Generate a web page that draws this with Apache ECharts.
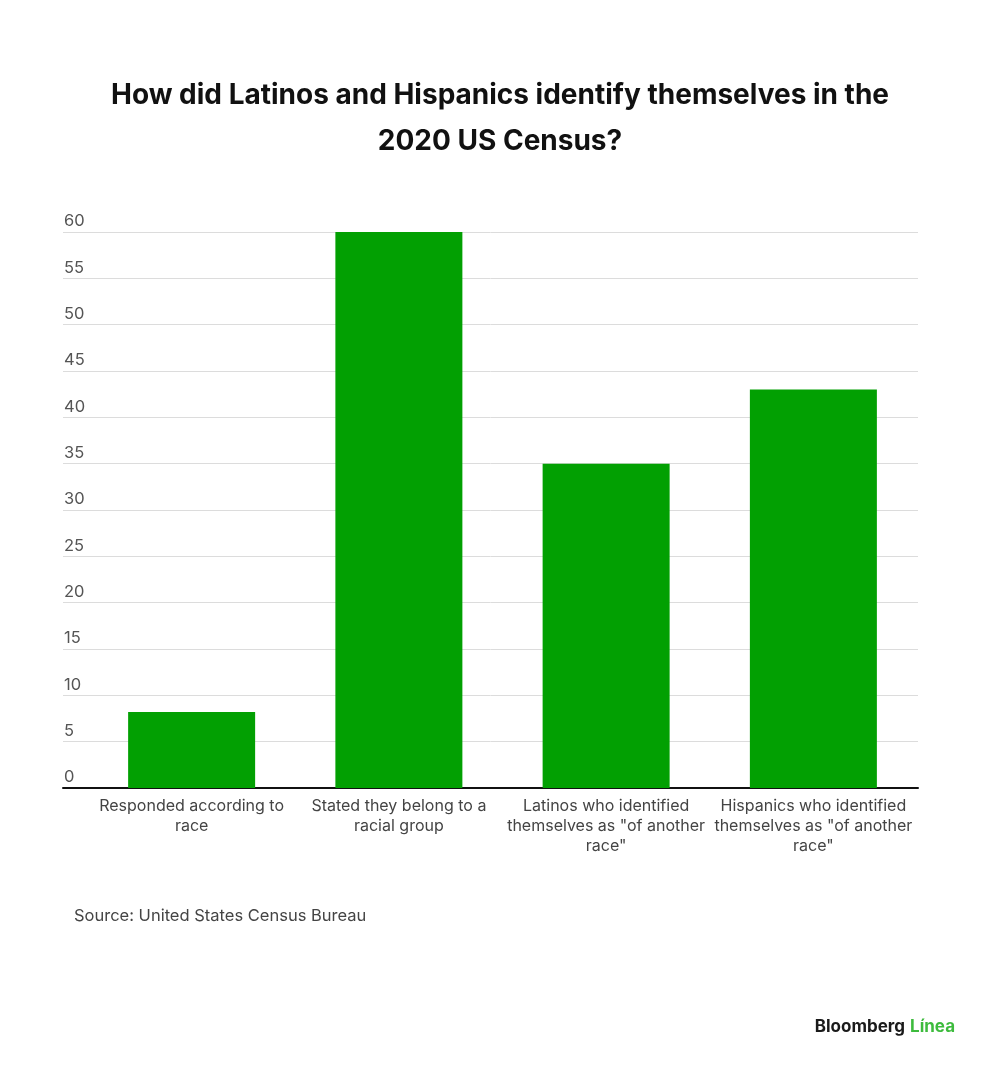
<!DOCTYPE html>
<html>
<head>
<meta charset="utf-8">
<script src="https://cdn.jsdelivr.net/npm/echarts@6/dist/echarts.min.js"></script>
<style>
  html, body { margin: 0; padding: 0; background: #fff; }
  #chart { width: 1000px; height: 1068px; }
</style>
</head>
<body>
<div id="chart"></div>
<script>
var categories = [
    'Responded according to\nrace',
    'Stated they belong to a\nracial group',
    'Latinos who identified\nthemselves as "of another\nrace"',
    'Hispanics who identified\nthemselves as "of another\nrace"'
];
var shares = [8.2, 60, 35, 43];
var yMin = 0, yMax = 60, yStep = 5;
var titleLines = ['How did Latinos and Hispanics identify themselves in the', '2020 US Census?'];

var myChart = echarts.init(document.getElementById('chart'));
var fontName = 'Inter, "Noto Sans", sans-serif';

var titleStyle = {
    fontFamily: fontName,
    fontWeight: 'bold',
    fontSize: 28,
    color: '#111'
};

var option = {
    backgroundColor: '#fff',
    animation: false,
    title: [
        { text: titleLines[0], left: 'center', top: 77, textStyle: titleStyle },
        { text: titleLines[1], left: 'center', top: 123, textStyle: titleStyle },
        {
            text: 'Source: United States Census Bureau',
            left: 69,
            top: 903,
            textStyle: { fontFamily: fontName, fontWeight: 'normal', fontSize: 16.5, color: '#444' }
        },
        {
            text: '{b|Bloomberg} {g|Línea}',
            right: 40,
            top: 1013,
            textStyle: {
                rich: {
                    b: { fontFamily: fontName, fontWeight: 'bold', fontSize: 17, color: '#1a1a1a' },
                    g: { fontFamily: fontName, fontWeight: 'bold', fontSize: 17, color: '#3dbb3d' }
                }
            }
        }
    ],
    grid: [
        // full-width grid just for gridlines and the baseline
        { left: 63, right: 82, top: 232, bottom: 280 },
        // narrower grid for the bars
        { left: 88, right: 83, top: 232, bottom: 280 }
    ],
    xAxis: [
        {
            type: 'value', gridIndex: 0, min: 0, max: 1,
            axisLine: { show: true, onZero: false, lineStyle: { color: '#111', width: 2 } },
            axisTick: { show: false }, axisLabel: { show: false }, splitLine: { show: false }
        },
        {
            type: 'category', gridIndex: 1, data: categories,
            axisLine: { show: false },
            axisTick: { show: false },
            axisLabel: {
                interval: 0,
                margin: 8,
                fontFamily: fontName,
                fontSize: 16,
                lineHeight: 20,
                color: '#444',
                align: 'center'
            }
        }
    ],
    yAxis: [
        {
            type: 'value', gridIndex: 0,
            min: yMin, max: yMax, interval: yStep,
            axisLine: { show: false }, axisTick: { show: false },
            axisLabel: {
                inside: true,
                margin: 1,
                align: 'left',
                verticalAlign: 'bottom',
                padding: [0, 0, 2, 0],
                fontFamily: fontName,
                fontSize: 16.5,
                color: '#555'
            },
            splitLine: { lineStyle: { color: '#dcdcdc', width: 1 } }
        },
        {
            type: 'value', gridIndex: 1,
            min: yMin, max: yMax, interval: yStep,
            show: false, splitLine: { show: false }
        }
    ],
    series: [
        {
            type: 'bar',
            xAxisIndex: 1, yAxisIndex: 1,
            data: shares,
            barWidth: 127,
            itemStyle: { color: '#02a002' },
            z: 1
        }
    ]
};
myChart.setOption(option);
window.addEventListener('resize', function () { myChart.resize(); });
</script>
</body>
</html>
